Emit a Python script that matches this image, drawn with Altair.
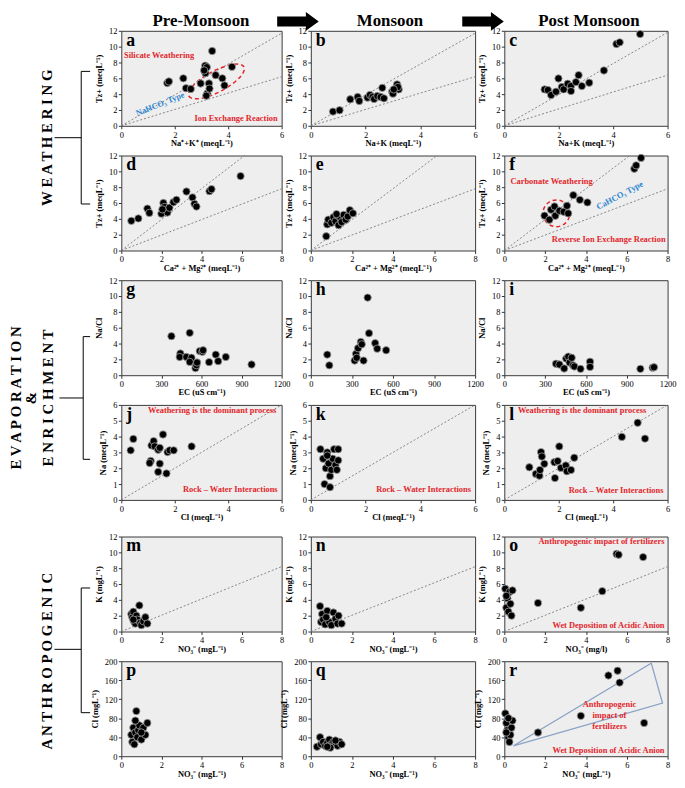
import altair as alt
import pandas as pd

FONT = "Liberation Serif"
RED = "#e3262c"
BLUE = "#2c86d1"
BG = "#eeeeee"
FRAME = "#3a3a3a"

# ---------------- data ----------------
a_x = [1.72, 1.78, 2.32, 2.42, 2.6, 2.97, 3.15, 3.14, 3.2, 3.22, 3.18, 3.28, 3.3, 3.4, 3.53, 3.78, 3.86, 4.14, 3.1]
a_y = [5.4, 5.6, 6.0, 4.75, 4.65, 5.35, 6.65, 7.6, 7.4, 4.1, 3.8, 5.35, 4.7, 9.45, 6.4, 6.0, 5.1, 7.45, 7.0]
b_x = [0.81, 1.05, 1.44, 1.71, 1.77, 2.07, 2.16, 2.25, 2.31, 2.43, 2.55, 2.61, 2.67, 2.97, 3.0, 3.15, 3.21, 3.18, 3.03]
b_y = [1.8, 1.97, 3.35, 3.64, 3.14, 3.56, 3.9, 3.64, 3.39, 3.77, 3.64, 4.8, 3.47, 4.3, 4.06, 5.23, 4.6, 4.9, 4.6]
c_x = [1.48, 1.6, 1.72, 1.9, 1.99, 2.11, 2.18, 2.33, 2.45, 2.45, 2.63, 2.73, 2.85, 3.12, 3.66, 4.12, 4.24, 4.99]
c_y = [4.6, 4.52, 3.89, 4.31, 5.98, 4.9, 4.6, 5.31, 5.02, 4.39, 5.52, 6.4, 5.02, 5.44, 6.99, 10.33, 10.54, 11.59]
d_x = [0.5, 0.85, 1.3, 1.4, 2.0, 2.1, 2.15, 2.3, 2.4, 2.6, 2.75, 3.25, 3.55, 3.65, 3.75, 4.4, 4.5, 5.95, 2.05]
d_y = [3.75, 4.05, 5.3, 4.75, 4.65, 6.0, 5.5, 4.8, 5.4, 6.1, 6.4, 7.45, 6.7, 5.9, 5.55, 7.5, 7.75, 9.4, 5.2]
e_x = [0.75, 0.8, 0.85, 1.0, 1.1, 1.2, 1.3, 1.35, 1.45, 1.5, 1.6, 1.7, 1.8, 1.9, 2.05, 1.25]
e_y = [1.8, 3.3, 3.9, 3.5, 4.2, 3.7, 4.4, 3.2, 4.0, 3.6, 4.5, 3.9, 4.3, 5.1, 4.7, 4.6]
f_x = [1.97, 2.21, 2.29, 2.46, 2.5, 2.7, 2.91, 3.07, 3.13, 3.38, 3.7, 4.07, 6.37, 6.46, 6.7]
f_y = [4.4, 3.89, 5.15, 5.56, 4.39, 5.02, 4.9, 5.65, 4.69, 6.99, 6.4, 6.07, 10.33, 10.75, 11.7]
g_x = [375, 512, 442, 437, 487, 525, 512, 555, 562, 567, 587, 607, 612, 657, 707, 725, 782, 975]
g_y = [4.93, 5.35, 2.74, 2.3, 2.3, 2.2, 1.68, 0.9, 1.26, 1.6, 3.05, 2.95, 3.15, 1.65, 2.6, 1.77, 2.3, 1.35]
h_x = [120, 135, 320, 330, 335, 345, 365, 372, 385, 415, 425, 470, 485, 550]
h_y = [2.6, 1.25, 1.85, 2.7, 2.2, 3.4, 4.2, 3.9, 1.85, 9.8, 5.3, 4.05, 3.35, 3.15]
i_x = [380, 405, 440, 455, 470, 480, 495, 505, 515, 560, 630, 630, 1000, 1090, 1100]
i_y = [1.45, 1.35, 0.85, 2.1, 2.35, 1.6, 2.2, 1.25, 1.1, 0.8, 1.7, 1.05, 0.8, 0.95, 1.0]
j_x = [0.35, 0.45, 1.1, 1.06, 1.13, 1.21, 1.25, 1.38, 1.44, 1.56, 1.44, 1.38, 1.69, 1.73, 1.81, 1.96, 2.63]
j_y = [3.13, 3.85, 2.46, 2.33, 3.44, 3.71, 3.38, 3.17, 3.29, 4.13, 2.29, 1.77, 1.67, 3.02, 3.13, 3.13, 3.38]
k_x = [0.35, 0.45, 0.5, 0.55, 0.6, 0.65, 0.7, 0.75, 0.8, 0.85, 0.9, 0.95, 1.0, 0.7, 0.6, 1.0]
k_y = [3.2, 2.6, 1.0, 2.0, 3.0, 2.3, 1.5, 1.9, 2.6, 3.2, 2.2, 1.9, 2.5, 0.8, 2.8, 3.2]
l_x = [0.92, 1.16, 1.29, 1.31, 1.35, 1.38, 1.47, 1.84, 1.86, 1.96, 2.02, 2.08, 2.26, 2.3, 2.45, 2.57, 4.32, 4.9, 5.17]
l_y = [2.06, 1.64, 1.53, 1.89, 3.02, 2.74, 2.28, 2.38, 1.38, 2.45, 3.38, 2.02, 2.17, 1.81, 1.89, 2.66, 3.98, 4.87, 3.87]
m_x = [0.5, 0.55, 0.6, 0.65, 0.7, 0.75, 0.8, 0.9, 0.95, 1.0, 1.1, 1.2, 1.3, 0.6]
m_y = [2.2, 1.8, 2.5, 1.2, 1.0, 2.0, 1.5, 3.3, 1.1, 0.8, 1.3, 1.8, 1.0, 1.5]
n_x = [0.45, 0.5, 0.55, 0.6, 0.7, 0.8, 0.9, 1.0, 1.1, 1.2, 1.3, 1.35, 1.5, 0.75]
n_y = [3.2, 1.2, 2.2, 1.5, 0.9, 2.6, 1.2, 0.8, 2.4, 1.6, 1.0, 2.0, 1.0, 1.8]
o_x = [0.05, 0.1, 0.15, 0.2, 0.25, 0.3, 0.35, 0.4, 0.1, 1.65, 3.75, 4.8, 5.5, 5.6, 6.8]
o_y = [5.4, 3.0, 4.2, 2.5, 5.0, 3.5, 2.0, 5.2, 4.5, 3.6, 3.0, 5.1, 9.8, 9.7, 9.4]
p_x = [0.5, 0.55, 0.6, 0.65, 0.7, 0.75, 0.8, 0.85, 0.9, 1.0, 1.1, 1.2, 1.3, 0.7, 1.0]
p_y = [45, 30, 60, 25, 50, 95, 40, 55, 65, 35, 60, 45, 70, 75, 50]
q_x = [0.3, 0.45, 0.5, 0.6, 0.7, 0.8, 0.9, 1.0, 1.1, 1.2, 1.3, 1.4, 1.5, 0.95, 1.2, 0.8]
q_y = [20, 40, 25, 30, 22, 28, 35, 25, 30, 28, 22, 30, 25, 18, 33, 20]
r_x = [0.05, 0.1, 0.15, 0.2, 0.25, 0.3, 0.35, 0.1, 0.4, 0.2, 1.65, 3.75, 5.1, 5.55, 5.65, 6.85]
r_y = [90, 70, 55, 40, 30, 45, 60, 50, 75, 80, 50, 85, 170, 180, 155, 70]
r_tri_x = [0.45, 7.2, 7.75, 0.45]
r_tri_y = [22, 196, 112, 22]

# reference lines (x0, y0, x1, y1)
lines_ab = [(0, 0, 6, 11.7), (0, 0, 6, 6.2)]
lines_c = [(0, 0, 6, 11.8), (0, 0, 6, 6.4)]
lines_def = [(0, 0, 6.15, 12), (0, 0, 8, 7.8)]
lines_jkl = [(0, 0, 6, 6)]
lines_mno = [(0, 0, 8, 8.2)]

# layout numbers
W = [162, 166, 165]
PH = 96
GAP45 = 7                 # extra gap between the evaporation and anthropogenic groups
COLSP = 29.5
ROWSP = 30
LW = 114 - COLSP          # left annotation column width
OX, OY = 8, 27            # page position of the first-row grid cell

ELL = "M-1,0A1,0.34,0,1,0,1,0A1,0.34,0,1,0,-1,0Z"
CIRC = "M-1,0A1,1,0,1,0,1,0A1,1,0,1,0,-1,0Z"
ARROW = "M-1,-0.24L0.38,-0.24L0.38,-0.45L1,0L0.38,0.45L0.38,0.24L-1,0.24Z"
NOVIEW = alt.ViewBackground(stroke="transparent", strokeWidth=0, strokeOpacity=0)


def panel(px, py, xmax, xstep, ymax, ystep, xtitle, ytitle, letter, width,
          lines=(), notes=(), rings=(), poly=None):
    xs = alt.Scale(domain=[0, xmax], nice=False)
    ys = alt.Scale(domain=[0, ymax], nice=False)
    xa = alt.Axis(values=list(range(0, xmax + 1, xstep)), title=xtitle, format="d")
    ya = alt.Axis(values=list(range(0, ymax + 1, ystep)), title=ytitle, format="d")

    def enc(ch, **kw):
        return ch.encode(x=alt.X("x:Q", scale=xs, axis=xa),
                         y=alt.Y("y:Q", scale=ys, axis=ya), **kw)

    layers = []
    for (x0, y0, x1, y1) in lines:
        df = pd.DataFrame({"x": [x0, x1], "y": [y0, y1]})
        layers.append(enc(alt.Chart(df).mark_line(color="#7a7a7a", strokeDash=[2, 2], strokeWidth=0.9)))
    if poly is not None:
        df = pd.DataFrame({"x": poly[0], "y": poly[1], "o": list(range(len(poly[0])))})
        layers.append(enc(alt.Chart(df).mark_line(color="#8aa3c6", strokeWidth=1.3), order="o:Q"))
    for (cx, cy, shp, sz, ang) in rings:
        df = pd.DataFrame({"x": [cx], "y": [cy]})
        layers.append(enc(alt.Chart(df).mark_point(shape=shp, size=sz, angle=ang, filled=False,
                                                   color=RED, opacity=1, strokeWidth=1.5,
                                                   strokeDash=[4, 3])))
    df = pd.DataFrame({"x": px, "y": py})
    layers.append(enc(alt.Chart(df).mark_circle(size=55, color="black", opacity=1,
                                                stroke="#a0a0a0", strokeWidth=0.8)))
    for nt in notes:
        t, x, y, col, align = nt[:5]
        ang = nt[5] if len(nt) > 5 else 0
        df = pd.DataFrame({"x": [x], "y": [y], "t": [t]})
        mk = dict(align=align, baseline="middle", font=FONT, fontSize=8.5,
                  fontWeight="bold", color=col)
        if ang:
            mk["angle"] = ang
        if "\n" in t:
            mk["lineBreak"] = "\n"
            mk["lineHeight"] = 11
        layers.append(enc(alt.Chart(df).mark_text(**mk), text="t:N"))
    ldf = pd.DataFrame({"t": [letter]})
    layers.append(alt.Chart(ldf).mark_text(align="left", baseline="top", font=FONT, fontSize=18,
                                           fontWeight="bold", color="black")
                  .encode(text="t:N", x=alt.value(5), y=alt.value(1)))
    return alt.layer(*layers).properties(
        width=width, height=PH,
        view=alt.ViewBackground(fill=BG, stroke=FRAME, strokeWidth=1))


TZ = "Tz+ (meqL⁻¹)"
NAK = "Na+K (meqL⁻¹)"
CAMG = "Ca²⁺ + Mg²⁺ (meqL⁻¹)"
EC = "EC (uS cm⁻¹)"
NACL = "Na/Cl"
CL = "Cl (meqL⁻¹)"
NA = "Na (meqL⁻¹)"
NO3 = "NO₃⁻ (mgL⁻¹)"
KT = "K (mgL⁻¹)"
CLT = "Cl (mgL⁻¹)"

pa = panel(a_x, a_y, 6, 2, 12, 2, "Na⁺+K⁺ (meqL⁻¹)", TZ, "a", W[0], lines_ab,
           notes=[("Silicate Weathering", 0.1, 9.0, RED, "left"),
                  ("Ion Exchange Reaction", 5.85, 1.0, RED, "right"),
                  ("NaHCO₃ Type", 1.45, 2.8, BLUE, "center", 338)],
           rings=[(3.56, 5.6, ELL, 3969, 332)])
pb = panel(b_x, b_y, 6, 2, 12, 2, NAK, TZ, "b", W[1], lines_ab)
pc = panel(c_x, c_y, 6, 2, 12, 2, NAK, TZ, "c", W[2], lines_c)
pd_ = panel(d_x, d_y, 8, 2, 12, 2, CAMG, TZ, "d", W[0], lines_def)
pe = panel(e_x, e_y, 8, 2, 12, 2, CAMG, TZ, "e", W[1], lines_def)
pf = panel(f_x, f_y, 8, 2, 12, 2, CAMG, TZ, "f", W[2], lines_def,
           notes=[("Carbonate Weathering", 0.3, 8.75, RED, "left"),
                  ("CaHCO₃ Type", 5.65, 7.0, BLUE, "center", 332),
                  ("Reverse Ion Exchange Reaction", 7.9, 1.4, RED, "right")],
           rings=[(2.55, 4.7, CIRC, 729, 0)])
pg = panel(g_x, g_y, 1200, 300, 12, 2, EC, NACL, "g", W[0])
ph = panel(h_x, h_y, 1200, 300, 12, 2, EC, NACL, "h", W[1])
pi = panel(i_x, i_y, 1200, 300, 12, 2, EC, NACL, "i", W[2])
pj = panel(j_x, j_y, 6, 2, 6, 1, CL, NA, "j", W[0], lines_jkl,
           notes=[("Weathering is the dominant process", 5.8, 5.7, RED, "right"),
                  ("Rock – Water Interactions", 5.85, 0.7, RED, "right")])
pk = panel(k_x, k_y, 6, 2, 6, 1, CL, NA, "k", W[1], lines_jkl,
           notes=[("Rock – Water Interactions", 5.85, 0.7, RED, "right")])
pl = panel(l_x, l_y, 6, 2, 6, 1, CL, NA, "l", W[2], lines_jkl,
           notes=[("Weathering is the dominant process", 0.5, 5.65, RED, "left"),
                  ("Rock – Water Interactions", 5.85, 0.65, RED, "right")])
pm = panel(m_x, m_y, 8, 2, 12, 2, NO3, KT, "m", W[0], lines_mno)
pn = panel(n_x, n_y, 8, 2, 12, 2, NO3, KT, "n", W[1], lines_mno)
po = panel(o_x, o_y, 8, 2, 12, 2, "NO₃⁻ (mg/l)", KT, "o", W[2], lines_mno,
           notes=[("Anthropogenic impact of fertilizers", 7.85, 11.4, RED, "right"),
                  ("Wet Deposition of Acidic Anion", 7.85, 0.8, RED, "right")])
pp = panel(p_x, p_y, 8, 2, 200, 40, NO3, CLT, "p", W[0])
pq = panel(q_x, q_y, 8, 2, 200, 40, NO3, CLT, "q", W[1])
pr = panel(r_x, r_y, 8, 2, 200, 40, NO3, CLT, "r", W[2], poly=(r_tri_x, r_tri_y),
           notes=[("Anthropogenic\nimpact of\nfertilizers", 5.15, 110, RED, "center"),
                  ("Wet Deposition of Acidic Anion", 7.85, 12, RED, "right")])

# ---------------- annotations (page coordinates) ----------------
side_t = ["W E A T H E R I N G", "E V A P O R A T I O N", "&", "E N R I C H M E N T",
          "A N T H R O P O G E N I C"]
side_x = [47, 16, 31, 48, 47]
side_y = [135, 398, 398, 398, 664]

br_x1 = [55, 82, 82, 82, 60, 84, 84, 84, 55, 82, 82, 82]
br_x2 = [82, 82, 91, 91, 84, 84, 91, 91, 82, 82, 91, 91]
br_y1 = [135, 68, 68, 202, 398, 336, 336, 460, 652, 590, 590, 716]
br_y2 = [135, 202, 68, 202, 398, 460, 336, 460, 652, 716, 590, 716]

head_t = ["Pre-Monsoon", "Monsoon", "Post Monsoon"]
head_x = [203, 394, 595]
head_y = [17, 17, 17]
arrow_x = [301, 488]
arrow_y = [17.5, 17.5]

lxs = alt.Scale(domain=[0, LW], nice=False)
lys = alt.Scale(domain=[0, PH], nice=False, reverse=True)


def lenc(ch, **kw):
    return ch.encode(x=alt.X("x:Q", scale=lxs, axis=None),
                     y=alt.Y("y:Q", scale=lys, axis=None), **kw)


side_df = pd.DataFrame({"x": [v - OX for v in side_x], "y": [v - OY for v in side_y], "t": side_t})
br_df = pd.DataFrame({"x": [v - OX for v in br_x1], "x2": [v - OX for v in br_x2],
                      "y": [v - OY for v in br_y1], "y2": [v - OY for v in br_y2]})
hdf = pd.DataFrame({"x": [v - OX for v in head_x], "y": [v - OY for v in head_y], "t": head_t})
adf = pd.DataFrame({"x": [v - OX for v in arrow_x], "y": [v - OY for v in arrow_y]})

left_text = lenc(alt.Chart(side_df).mark_text(angle=270, font=FONT, fontSize=15, fontWeight="bold",
                                              align="center", baseline="middle", color="black"),
                 text="t:N")
left_br = lenc(alt.Chart(br_df).mark_rule(color="black", strokeWidth=1), x2="x2:Q", y2="y2:Q")
head_text = lenc(alt.Chart(hdf).mark_text(font=FONT, fontSize=17, fontWeight="bold", align="center",
                                          baseline="middle", color="black"), text="t:N")
head_arrow = lenc(alt.Chart(adf).mark_point(shape=ARROW, size=1764, filled=True, color="black",
                                            opacity=1, strokeWidth=0))
annot = alt.layer(left_br, left_text, head_text, head_arrow).properties(
    width=LW, height=PH, view=NOVIEW)


def blank(h):
    return alt.Chart(pd.DataFrame({"x": [0]})).mark_point(opacity=0).encode(
        x=alt.X("x:Q", axis=None), y=alt.value(0)).properties(width=LW, height=h, view=NOVIEW)


cells = [annot, pa, pb, pc,
         blank(PH), pd_, pe, pf,
         blank(PH), pg, ph, pi,
         blank(PH + GAP45), pj, pk, pl,
         blank(PH), pm, pn, po,
         blank(PH), pp, pq, pr]

chart = alt.concat(*cells, columns=4, spacing={"row": ROWSP, "column": COLSP},
                   bounds="flush", padding=0, background="white").configure_axis(
    labelFont=FONT, labelFontSize=8.5, labelColor="black", titleFont=FONT, titleFontSize=8.5,
    titleFontWeight="bold", titleColor="black", grid=False, domain=False, tickSize=3,
    tickColor="#333", labelFlush=False, labelPadding=1.5
).configure_axisX(titlePadding=0).configure_axisY(titlePadding=5).configure_view(
    stroke="transparent")

chart.save("out.html", embed_options={"renderer": "svg", "actions": False})
